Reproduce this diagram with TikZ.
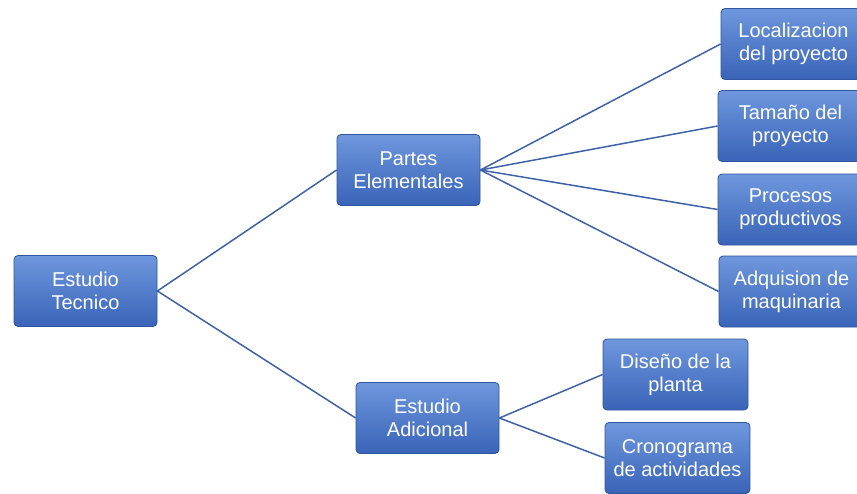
\documentclass[tikz,border=0pt]{standalone}
\usepackage{fontspec}
\setmainfont{Liberation Sans}
\definecolor{boxtop}{HTML}{6E97DD}
\definecolor{boxbot}{HTML}{3964B8}
\definecolor{boxedge}{HTML}{2F559F}
\definecolor{linec}{HTML}{3F62A6}
\begin{document}
\begin{tikzpicture}[x=1pt,y=1pt,
  box/.style={rectangle, rounded corners=4pt, top color=boxtop, bottom color=boxbot,
    draw=boxedge, line width=0.8pt, text=white, align=center,
    minimum width=143pt, minimum height=71pt, inner sep=2pt,
    font=\fontsize{20}{23}\selectfont},
  conn/.style={draw=linec, line width=1.5pt}]
\useasboundingbox (0,0) rectangle (857,-493);
\node[box] (et) at (85.5,-291) {Estudio\\Tecnico};
\node[box] (pe) at (408.5,-170) {Partes\\Elementales};
\node[box] (ea) at (427.5,-418) {Estudio\\Adicional};
\node[box, minimum width=145pt] (lp) at (793.5,-44) {Localizacion\\del proyecto};
\node[box, minimum width=145pt] (tp) at (790.5,-126) {Tamaño del\\proyecto};
\node[box, minimum width=145pt] (pp) at (790.5,-209.5) {Procesos\\productivos};
\node[box, minimum width=145pt] (am) at (791.5,-291.5) {Adquision de\\maquinaria};
\node[box, minimum width=145pt] (dp) at (675.5,-374.5) {Diseño de la\\planta};
\node[box, minimum width=145pt] (ca) at (677.5,-458) {Cronograma\\de actividades};
\draw[conn] (et.east) -- (pe.west);
\draw[conn] (et.east) -- (ea.west);
\draw[conn] (pe.east) -- (lp.west);
\draw[conn] (pe.east) -- (tp.west);
\draw[conn] (pe.east) -- (pp.west);
\draw[conn] (pe.east) -- (am.west);
\draw[conn] (ea.east) -- (dp.west);
\draw[conn] (ea.east) -- (ca.west);
\end{tikzpicture}
\end{document}
